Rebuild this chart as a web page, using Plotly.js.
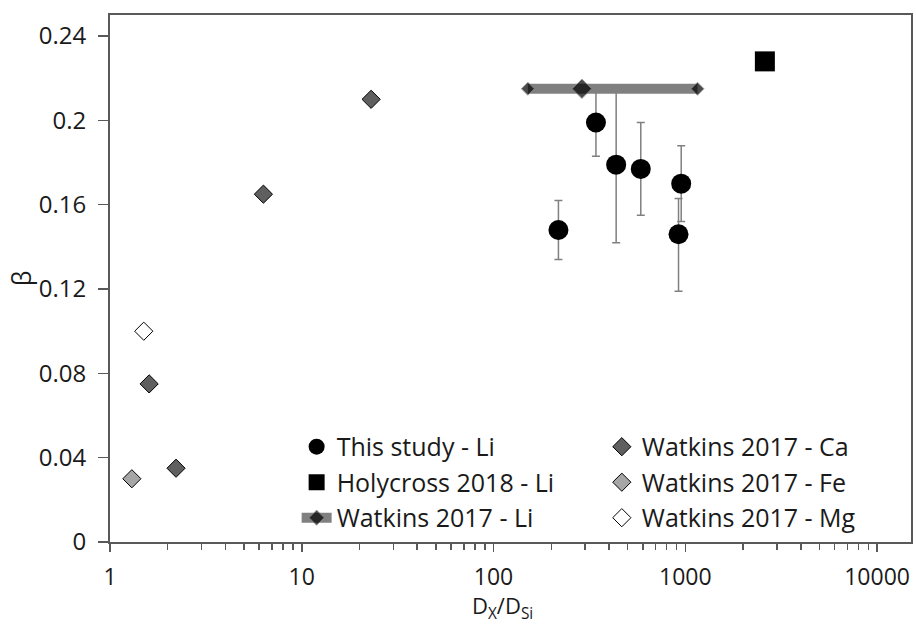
<!DOCTYPE html>
<html>
<head>
<meta charset="utf-8">
<script src="https://cdn.plot.ly/plotly-3.0.1.min.js"></script>
<style>html,body{margin:0;padding:0;background:#fff;}#chart{width:916px;height:627px;}</style>
</head>
<body>
<div id="chart"></div>
<script>
// This study - Li
const studyX = [218, 342, 436, 586, 952, 922];
const studyY = [0.148, 0.199, 0.179, 0.177, 0.170, 0.146];
const studyUpper = [0.162, 0.215, 0.216, 0.199, 0.188, 0.163];
const studyLower = [0.134, 0.183, 0.142, 0.155, 0.152, 0.119];

// Holycross 2018 - Li
const holyX = [2600];
const holyY = [0.228];

// Watkins 2017 - Li (range with central value)
const watLiX = [151, 289, 1158];
const watLiY = [0.215, 0.215, 0.215];

// Watkins 2017 - Ca / Fe / Mg
const watCaX = [23.0, 6.31, 1.60, 2.21];
const watCaY = [0.210, 0.165, 0.075, 0.035];
const watFeX = [1.30];
const watFeY = [0.030];
const watMgX = [1.50];
const watMgY = [0.100];

// Axis ticks and titles
const yTickVals = [0, 0.04, 0.08, 0.12, 0.16, 0.2, 0.24];
const yTickText = ["0", "0.04", "0.08", "0.12", "0.16", "0.2", "0.24"];
const xTickVals = [1, 10, 100, 1000, 10000];
const xTickText = ["1", "10", "100", "1000", "10000"];
const xTitle = "D<sub>X</sub>/D<sub>Si</sub>";
const yTitle = "β";

const FONT = "Open Sans, sans-serif";
const TXT = "#1a1a1a";
const AX = "#595959";

const errPlus = studyUpper.map((u, i) => u - studyY[i]);
const errMinus = studyLower.map((l, i) => studyY[i] - l);

const traces = [
  {
    name: "This study - Li", x: studyX, y: studyY, type: "scatter", mode: "markers",
    legendgroup: "a", legend: "legend",
    marker: {symbol: "circle", size: 20, color: "#000"},
    error_y: {type: "data", symmetric: false, array: errPlus, arrayminus: errMinus,
              color: "#808080", thickness: 1.5, width: 4}
  },
  {
    name: "Holycross 2018 - Li", x: holyX, y: holyY, type: "scatter", mode: "markers",
    legendgroup: "b", legend: "legend",
    marker: {symbol: "square", size: 20, color: "#000"}
  },
  {
    name: "Watkins 2017 - Li", x: watLiX, y: watLiY, type: "scatter", mode: "lines+markers",
    legendgroup: "c", legend: "legend",
    line: {color: "#808080", width: 10},
    marker: {symbol: "diamond", size: [10, 15, 10], color: "#000"}
  },
  {
    name: "Watkins 2017 - Ca", x: watCaX, y: watCaY, type: "scatter", mode: "markers",
    legendgroup: "d", legend: "legend2",
    marker: {symbol: "diamond", size: 14, color: "#5f5f5f", line: {color: "#000", width: 1}}
  },
  {
    name: "Watkins 2017 - Fe", x: watFeX, y: watFeY, type: "scatter", mode: "markers",
    legendgroup: "e", legend: "legend2",
    marker: {symbol: "diamond", size: 14, color: "#a6a6a6", line: {color: "#000", width: 1}}
  },
  {
    name: "Watkins 2017 - Mg", x: watMgX, y: watMgY, type: "scatter", mode: "markers",
    legendgroup: "f", legend: "legend2",
    marker: {symbol: "diamond", size: 14, color: "#fff", line: {color: "#000", width: 1}}
  }
];

const legendCommon = {
  font: {family: FONT, size: 25, color: TXT},
  bgcolor: "rgba(0,0,0,0)", borderwidth: 0,
  xanchor: "left", yanchor: "top", tracegroupgap: 0,
  itemsizing: "trace"
};

const layout = {
  width: 916, height: 627,
  margin: {l: 110, r: 5, t: 15, b: 85, pad: 0},
  paper_bgcolor: "#fff", plot_bgcolor: "#fff",
  font: {family: FONT, size: 24, color: TXT},
  showlegend: true,
  xaxis: {
    type: "log", range: [0, 4.177], autorange: false,
    tickmode: "array", tickvals: xTickVals, ticktext: xTickText,
    ticks: "outside", ticklen: 8, tickwidth: 1.5, tickcolor: AX,
    minor: {ticks: "outside", ticklen: 6, tickwidth: 1.5, tickcolor: AX, dtick: "D1", showgrid: false},
    showline: true, linecolor: AX, linewidth: 2, mirror: true,
    showgrid: false, zeroline: false, ticklabelstandoff: 5,
    tickfont: {family: FONT, size: 23, color: TXT}
  },
  yaxis: {
    range: [0, 0.25], autorange: false,
    tickmode: "array", tickvals: yTickVals, ticktext: yTickText,
    ticks: "outside", ticklen: 10, tickwidth: 1.5, tickcolor: AX,
    showline: true, linecolor: AX, linewidth: 2, mirror: true,
    showgrid: false, zeroline: false, ticklabelstandoff: 7,
    tickfont: {family: FONT, size: 24, color: TXT},
    title: {text: yTitle, font: {family: FONT, size: 25, color: TXT}, standoff: 0}
  },
  annotations: [{
    text: xTitle, xref: "paper", yref: "paper", x: 0.49, y: -0.088,
    xanchor: "center", yanchor: "top", showarrow: false,
    font: {family: FONT, size: 22, color: TXT}
  }],
  legend: Object.assign({}, legendCommon, {x: 0.233, y: 0.224}),
  legend2: Object.assign({}, legendCommon, {x: 0.614, y: 0.224})
};

Plotly.newPlot("chart", traces, layout, {displayModeBar: false, staticPlot: true});
</script>
</body>
</html>
